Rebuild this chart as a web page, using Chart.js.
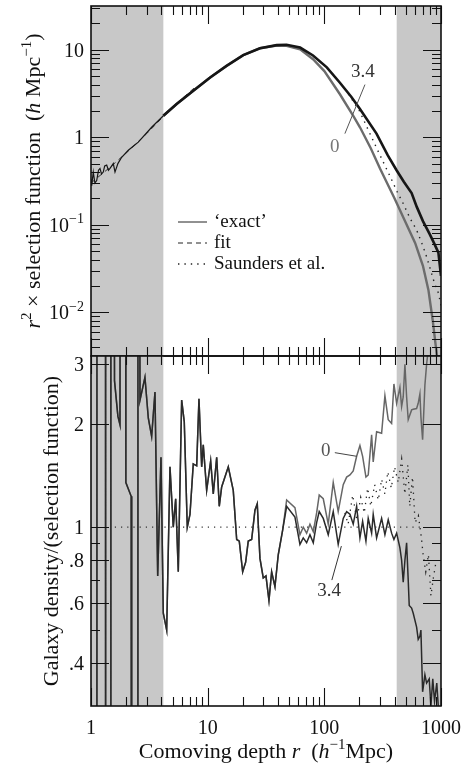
<!DOCTYPE html>
<html>
<head>
<meta charset="utf-8">
<script src="https://cdn.jsdelivr.net/npm/chart.js@4.4.1/dist/chart.umd.min.js"></script>
<style>
  html, body { margin: 0; padding: 0; background: #fff; }
  #wrap { position: relative; width: 472px; height: 766px; overflow: hidden; }
  canvas { position: absolute; left: 0; }
  #top-panel { top: 0; }
  #bottom-panel { top: 340px; }
</style>
</head>
<body>
<div id="wrap">
  <canvas id="top-panel" width="472" height="372"></canvas>
  <canvas id="bottom-panel" width="472" height="426"></canvas>
</div>
<script>
'use strict';

/* Section 1: data */

// top panel: r^2 x selection function
const topR = [1.0, 1.014, 1.046, 1.08, 1.119, 1.16, 1.194, 1.23, 1.274, 1.31,
    1.363, 1.41, 1.455, 1.553, 1.606, 1.70, 1.832, 2.088, 2.543, 3.31,
    4.17, 5.42, 7.53, 10.5, 14.5, 20.2, 28.1, 39.0, 47.4, 62,
    80, 105, 136, 170, 202, 280, 350, 416, 480, 560,
    620, 700, 800, 880, 950, 1000];
const topHi = [0.33, 0.28, 0.40, 0.30, 0.32, 0.42, 0.44, 0.38, 0.40, 0.47,
    0.48, 0.42, 0.44, 0.50, 0.40, 0.50, 0.59, 0.71, 0.88, 1.30,
    1.76, 2.40, 3.40, 4.81, 6.53, 8.7, 10.4, 11.3, 11.4, 10.6,
    8.6, 6.3, 4.2, 2.9, 2.1, 1.1, 0.62, 0.42, 0.31, 0.23,
    0.16, 0.11, 0.078, 0.06, 0.048, 0.026];
const topLoR = [4.17, 5.42, 7.53, 10.5, 14.5, 20.2, 28.1, 39.0, 47.4, 62,
    80, 100, 136, 177, 202, 250, 300, 400, 500, 600,
    700, 780, 850, 900, 935, 960];
const topLo = [1.76, 2.40, 3.40, 4.81, 6.53, 8.7, 10.4, 11.2, 11.1, 10.1,
    7.8, 5.7, 3.1, 1.75, 1.3, 0.75, 0.44, 0.20, 0.105, 0.062,
    0.034, 0.018, 0.008, 0.0042, 0.0028, 0.002];
const fitR = [1, 1.5, 2, 3, 4.17, 6, 8];
const fitV = [0.30, 0.47, 0.66, 1.10, 1.72, 2.75, 3.85];
const sauR = [150, 200, 250, 281, 320, 365, 420, 474, 540, 618, 690, 753, 810, 857, 910, 950, 1000];
const sauV = [3.6, 2.0, 1.05, 0.75, 0.52, 0.36, 0.24, 0.175, 0.12, 0.087, 0.06, 0.043, 0.031, 0.024, 0.019, 0.0166, 0.012];

// bottom panel: galaxy density / selection function
const botR = [1.0, 1.122, 1.126, 1.330, 1.335, 1.476, 1.480, 1.553, 1.59, 1.70,
    1.772, 1.80, 1.97, 1.99, 2.21, 2.233, 2.52, 2.53, 2.63, 2.90,
    3.10, 3.31, 3.535, 3.73, 3.98, 4.165, 4.454, 4.753, 5.073, 5.319,
    5.599, 5.986, 6.302, 6.688, 7.053, 7.527, 8.051, 8.422, 8.885, 9.168,
    9.804, 10.61, 11.17, 11.95, 12.57, 13.18, 15.02, 16.57, 17.73, 18.66,
    19.95, 21.17, 22.28, 23.83, 25.43, 26.61, 28.07, 29.95, 31.60, 33.52,
    35.35, 37.74, 40.27, 43.93, 47.53, 55.98, 61.8, 65.96, 70.5, 75.3,
    80.4, 85.9, 90.4, 97.9, 108, 119.2, 131.5, 145.2, 155.3, 165.8,
    176.9, 189.2, 201.9, 212.9, 227.3, 237.8, 254.3, 262.4, 280.6, 309.7,
    330.6, 352.9, 377.3, 394.9, 416.5, 444.5, 459.7, 474.4, 490.6, 507.3,
    523.6, 534.1, 559.9, 578, 617.9, 637.7, 659.5, 672.7, 695.6, 727.8,
    752.6, 792.6, 819.5, 850, 880, 920, 960, 1000];
// both runs agree out to r ~ 45
const botShared = [0.001, 0.001, 1000, 1000, 0.001, 0.001, 1000, 1000, 2.68, 2.11,
    1.99, 1000, 1000, 1.35, 1.23, 0.001, 0.001, 1000, 2.35, 2.74,
    2.08, 1.84, 2.48, 0.72, 1.60, 0.56, 0.50, 1.50, 1.0, 1.21,
    0.74, 2.35, 2.03, 1.0, 1.09, 1.53, 1.51, 2.37, 1.50, 1.74,
    1.28, 1.56, 1.25, 1.60, 1.15, 1.31, 1.50, 1.28, 0.92, 0.91,
    0.74, 0.79, 0.91, 0.92, 1.12, 1.17, 0.81, 0.71, 0.72, 0.61,
    0.74, 0.67, 0.83, 0.98];
const bot34Tail = [1.15, 1.07, 0.89, 0.93, 0.90, 0.95,
    0.90, 1.03, 1.11, 1.06, 0.95, 1.11, 0.89, 1.06, 1.11, 1.09,
    1.02, 1.15, 0.93, 1.04, 0.91, 1.06, 0.96, 1.09, 0.93, 1.06,
    0.95, 1.05, 0.96, 0.92, 0.96, 0.87, 0.80, 0.69, 0.80, 0.90,
    0.70, 0.59, 0.58, 0.56, 0.51, 0.47, 0.48, 0.50, 0.33, 0.37,
    0.35, 0.36, 0.30, 0.36, 0.31, 0.35, 0.28, 0.30];
const bot0Tail = [1.20, 1.14, 0.95, 1.0, 0.96, 1.02,
    0.97, 1.10, 1.24, 1.21, 1.02, 1.35, 1.11, 1.33, 1.40, 1.42,
    1.46, 1.61, 1.73, 1.61, 1.40, 1.42, 1.86, 1.55, 1.90, 1.88,
    2.42, 2.06, 2.01, 2.62, 2.30, 2.56, 2.25, 2.40, 2.99, 2.40,
    2.06, 2.10, 2.20, 2.21, 2.22, 2.30, 2.45, 2.10, 1.80, 2.60,
    2.99, 3.5, 4.0, 5, 5, 5, 5, 5];
const unityR = [1.6, 700];
const unityV = [1, 1];
const ratioR = [150, 160, 175, 190, 205, 220, 235, 250, 270, 290, 310, 330, 350, 375, 400,
    430, 460, 490, 520, 540, 570, 600, 640, 680, 700, 740, 780, 820, 860, 900];
const ratioV = [1.10, 1.02, 1.24, 1.05, 1.22, 1.10, 1.30, 1.15, 1.33, 1.20, 1.38, 1.25, 1.45, 1.30, 1.50,
    1.35, 1.58, 1.25, 1.52, 1.15, 1.40, 1.03, 1.08, 0.93, 0.84, 0.74, 0.83, 0.63, 0.71, 0.78];

// axes
const xMajor = [1, 10, 100, 1000];
const xLabels = ['1', '10', '100', '1000'];
const topMajor = [0.01, 0.1, 1, 10];
const topLabels = [[['10', ''], ['−2', 'sup']], [['10', ''], ['−1', 'sup']], [['1', '']], [['10', '']]];
const botMajor = [0.4, 0.6, 0.8, 1, 2, 3];
const botLabels = ['.4', '.6', '.8', '1', '2', '3'];
const botMinor = [0.5, 0.7, 0.9];
const shadeBands = [[1, 4.17], [417, 1000]];


/* Section 2: helpers */

const SERIF = '"Liberation Serif", "DejaVu Serif", serif';
const INK = '#111';

function pts(xs, ys) {
    return xs.map((x, i) => ({x: x, y: ys[i]}));
}

function minorLog(lo, hi) {
    const out = [];
    for (let d = lo; d < hi; d *= 10) {
        for (let k = 2; k <= 9; k++) out.push(d * k);
    }
    return out;
}

// text made of runs: ['txt', ''|'i'|'sup']
function drawRich(ctx, runs, x, y, size, align) {
    const parts = runs.map(([t, s]) => {
        const fs = s === 'sup' ? Math.round(size * 0.7) : size;
        const font = (s === 'i' ? 'italic ' : '') + fs + 'px ' + SERIF;
        ctx.font = font;
        return {t, s, font, w: ctx.measureText(t).width};
    });
    const total = parts.reduce((a, p) => a + p.w, 0);
    let cx = align === 'center' ? x - total / 2 : align === 'right' ? x - total : x;
    ctx.textAlign = 'left';
    ctx.textBaseline = 'alphabetic';
    for (const p of parts) {
        ctx.font = p.font;
        ctx.fillText(p.t, cx, p.s === 'sup' ? y - size * 0.42 : y);
        cx += p.w;
    }
}

function shadePlugin() {
    return {
        id: 'shade',
        beforeDatasetsDraw(chart) {
            const {ctx, chartArea: a} = chart;
            const x = chart.scales.x;
            ctx.save();
            ctx.fillStyle = '#c8c8c8';
            for (const [lo, hi] of shadeBands) {
                const x0 = x.getPixelForValue(lo);
                const x1 = x.getPixelForValue(hi);
                ctx.fillRect(x0, a.top, x1 - x0, a.bottom - a.top);
            }
            ctx.restore();
        }
    };
}

function drawFrame(chart, yMajor, yMinor) {
    const {ctx, chartArea: a} = chart;
    const x = chart.scales.x, y = chart.scales.y;
    const LONG = 18, SHORT = 9;
    ctx.save();
    ctx.strokeStyle = INK;
    ctx.lineWidth = 1.1;
    ctx.beginPath();
    const xm = minorLog(1, 1000);
    for (const v of xMajor.concat(xm)) {
        const px = Math.round(x.getPixelForValue(v)) + 0.5;
        const len = xMajor.includes(v) ? LONG : SHORT;
        ctx.moveTo(px, a.top); ctx.lineTo(px, a.top + len);
        ctx.moveTo(px, a.bottom); ctx.lineTo(px, a.bottom - len);
    }
    for (const v of yMajor.concat(yMinor)) {
        if (v < y.min || v > y.max) continue;
        const py = Math.round(y.getPixelForValue(v)) + 0.5;
        const len = yMajor.includes(v) ? LONG : SHORT;
        ctx.moveTo(a.left, py); ctx.lineTo(a.left + len, py);
        ctx.moveTo(a.right, py); ctx.lineTo(a.right - len, py);
    }
    ctx.stroke();
    ctx.lineWidth = 1.6;
    ctx.strokeRect(a.left, a.top, a.right - a.left, a.bottom - a.top);
    ctx.restore();
}

function leader(ctx, x, y, p0, p1, color) {
    ctx.save();
    ctx.strokeStyle = color;
    ctx.lineWidth = 1;
    ctx.beginPath();
    ctx.moveTo(x.getPixelForValue(p0[0]), y.getPixelForValue(p0[1]));
    ctx.lineTo(x.getPixelForValue(p1[0]), y.getPixelForValue(p1[1]));
    ctx.stroke();
    ctx.restore();
}

function noteAt(ctx, x, y, text, r, v, color) {
    ctx.save();
    ctx.fillStyle = color;
    ctx.font = '19px ' + SERIF;
    ctx.textAlign = 'center';
    ctx.textBaseline = 'middle';
    ctx.fillText(text, x.getPixelForValue(r), y.getPixelForValue(v));
    ctx.restore();
}

function baseOptions(yMin, yMax, padding) {
    return {
        responsive: false,
        maintainAspectRatio: false,
        animation: false,
        layout: {padding: padding},
        elements: {point: {radius: 0}, line: {tension: 0}},
        plugins: {legend: {display: false}, tooltip: {enabled: false}},
        scales: {
            x: {type: 'logarithmic', display: false, min: 1, max: 1000},
            y: {type: 'logarithmic', display: false, min: yMin, max: yMax}
        }
    };
}


/* Section 3: top panel */

const topCtx = document.querySelector('#top-panel');
new Chart(topCtx, {
    type: 'line',
    data: {
        datasets: [{
            label: '3.4',
            data: pts(topR, topHi),
            borderColor: '#161616',
            borderWidth: 2.6,
            segment: {borderWidth: ctx => ctx.p1.parsed.x <= 4.2 ? 1.2 : 2.6},
            clip: 0
        }, {
            label: '0',
            data: pts(topLoR, topLo),
            borderColor: '#6c6c6c',
            borderWidth: 2.4,
            clip: 0
        }, {
            label: 'fit',
            data: pts(fitR, fitV),
            borderColor: '#333',
            borderWidth: 1,
            borderDash: [5, 4],
            clip: 0
        }, {
            label: 'Saunders et al.',
            data: pts(sauR, sauV),
            borderColor: '#222',
            borderWidth: 1.4,
            borderDash: [1.4, 5],
            clip: 0
        }]
    },
    options: baseOptions(Math.pow(10, -2.5), Math.pow(10, 1.5), {top: 6, left: 91, right: 31, bottom: 16}),
    plugins: [shadePlugin(), {
        id: 'topDecor',
        afterDraw(chart) {
            const {ctx} = chart;
            const x = chart.scales.x, y = chart.scales.y;
            drawFrame(chart, topMajor, minorLog(0.001, 10).concat([20, 30]));

            ctx.save();
            ctx.fillStyle = INK;
            topMajor.forEach((v, i) => {
                drawRich(ctx, topLabels[i], 84, y.getPixelForValue(v) + 7, 20, 'right');
            });

            // axis title
            ctx.translate(40, (chart.chartArea.top + chart.chartArea.bottom) / 2);
            ctx.rotate(-Math.PI / 2);
            drawRich(ctx, [['r', 'i'], ['2', 'sup'], [' × selection function  (', ''], ['h', 'i'],
                [' Mpc', ''], ['−1', 'sup'], [')', '']], 0, 0, 22, 'center');
            ctx.restore();

            // legend
            const rows = [['‘exact’', []], ['fit', [5, 4]], ['Saunders et al.', [1.4, 5]]];
            ctx.save();
            rows.forEach(([txt, dash], i) => {
                const ly = 222 + i * 21;
                ctx.strokeStyle = '#222';
                ctx.lineWidth = dash.length && dash[0] < 2 ? 1.4 : 1;
                ctx.setLineDash(dash);
                ctx.beginPath();
                ctx.moveTo(178, ly); ctx.lineTo(207, ly);
                ctx.stroke();
                ctx.fillStyle = INK;
                ctx.font = '19px ' + SERIF;
                ctx.textAlign = 'left';
                ctx.textBaseline = 'middle';
                ctx.fillText(txt, 214, ly);
            });
            ctx.restore();

            noteAt(ctx, x, y, '3.4', 214, 5.6, '#333');
            noteAt(ctx, x, y, '0', 123, 0.77, '#777');
            leader(ctx, x, y, [223, 4.0], [150, 1.1], '#555');
        }
    }]
});


/* Section 4: bottom panel */

const botCtx = document.querySelector('#bottom-panel');
new Chart(botCtx, {
    type: 'line',
    data: {
        datasets: [{
            label: '3.4',
            data: pts(botR, botShared.concat(bot34Tail)),
            borderColor: '#2a2a2a',
            borderWidth: 1.5,
            clip: 0
        }, {
            label: '0',
            data: pts(botR, botShared.concat(bot0Tail)),
            borderColor: '#666',
            borderWidth: 1.5,
            clip: 0
        }, {
            label: 'unity',
            data: pts(unityR, unityV),
            borderColor: '#333',
            borderWidth: 1.2,
            borderDash: [1.2, 5],
            clip: 0
        }, {
            label: 'Saunders et al.',
            data: pts(ratioR, ratioV),
            borderColor: '#222',
            borderWidth: 1.3,
            borderDash: [1.3, 5],
            clip: 0
        }]
    },
    options: baseOptions(Math.pow(10, -0.5), Math.pow(10, 0.5), {top: 16, left: 91, right: 31, bottom: 60}),
    plugins: [shadePlugin(), {
        id: 'botDecor',
        afterDraw(chart) {
            const {ctx, chartArea: a} = chart;
            const x = chart.scales.x, y = chart.scales.y;
            drawFrame(chart, botMajor, botMinor);

            ctx.save();
            ctx.fillStyle = INK;
            ctx.font = '20px ' + SERIF;
            ctx.textAlign = 'right';
            ctx.textBaseline = 'alphabetic';
            botMajor.forEach((v, i) => {
                ctx.fillText(botLabels[i], 84, y.getPixelForValue(v) + 7);
            });
            ctx.textAlign = 'center';
            xMajor.forEach((v, i) => {
                ctx.fillText(xLabels[i], x.getPixelForValue(v), a.bottom + 28);
            });
            drawRich(ctx, [['Comoving depth ', ''], ['r', 'i'], ['  (', ''], ['h', 'i'], ['−1', 'sup'], ['Mpc)', '']],
                (a.left + a.right) / 2, a.bottom + 52, 22, 'center');

            ctx.translate(58, (a.top + a.bottom) / 2);
            ctx.rotate(-Math.PI / 2);
            drawRich(ctx, [['Galaxy density/(selection function)', '']], 0, 0, 22, 'center');
            ctx.restore();

            noteAt(ctx, x, y, '0', 103, 1.67, '#555');
            leader(ctx, x, y, [123, 1.65], [190, 1.61], '#444');
            noteAt(ctx, x, y, '3.4', 110, 0.652, '#333');
            leader(ctx, x, y, [116, 0.70], [140, 0.88], '#333');
        }
    }]
});
</script>
</body>
</html>
